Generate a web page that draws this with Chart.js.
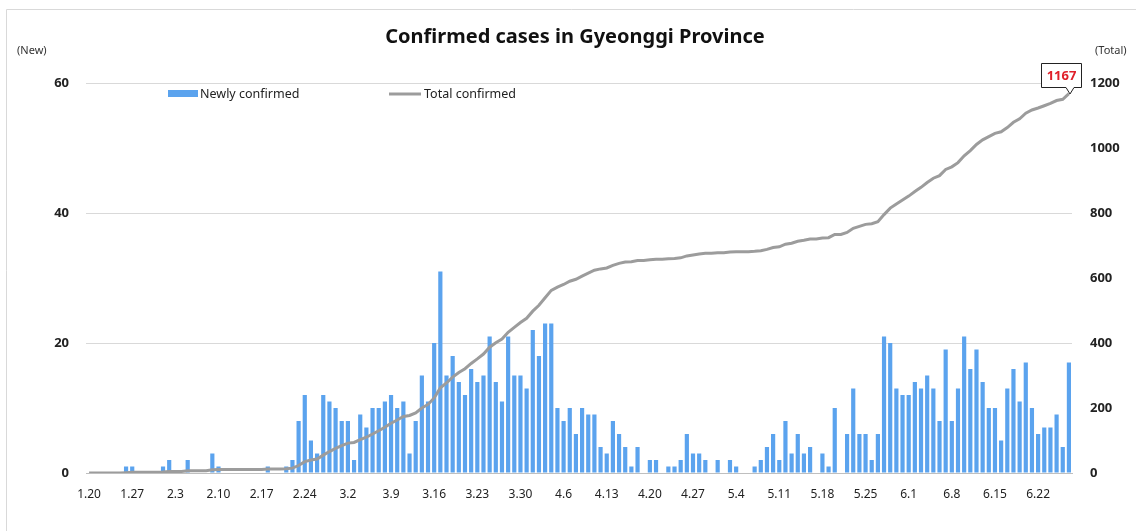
<!DOCTYPE html>
<html>
<head>
<meta charset="utf-8">
<title>Confirmed cases in Gyeonggi Province</title>
<script src="https://cdn.jsdelivr.net/npm/chart.js@4.4.0/dist/chart.umd.min.js"></script>
<style>
  body { margin: 0; background: #fff; }
  #wrap { width: 1136px; height: 531px; position: relative; }
</style>
</head>
<body>
<div id="wrap"><canvas id="casesChart"></canvas></div>
<script>
const days = [
  "1.20","1.21","1.22","1.23","1.24","1.25","1.26","1.27","1.28","1.29","1.30","1.31",
  "2.1","2.2","2.3","2.4","2.5","2.6","2.7","2.8","2.9","2.10","2.11","2.12","2.13","2.14","2.15",
  "2.16","2.17","2.18","2.19","2.20","2.21","2.22","2.23","2.24","2.25","2.26","2.27","2.28","2.29",
  "3.1","3.2","3.3","3.4","3.5","3.6","3.7","3.8","3.9","3.10","3.11","3.12","3.13","3.14","3.15","3.16",
  "3.17","3.18","3.19","3.20","3.21","3.22","3.23","3.24","3.25","3.26","3.27","3.28","3.29","3.30","3.31",
  "4.1","4.2","4.3","4.4","4.5","4.6","4.7","4.8","4.9","4.10","4.11","4.12","4.13","4.14","4.15",
  "4.16","4.17","4.18","4.19","4.20","4.21","4.22","4.23","4.24","4.25","4.26","4.27","4.28","4.29","4.30",
  "5.1","5.2","5.3","5.4","5.5","5.6","5.7","5.8","5.9","5.10","5.11","5.12","5.13","5.14","5.15","5.16",
  "5.17","5.18","5.19","5.20","5.21","5.22","5.23","5.24","5.25","5.26","5.27","5.28","5.29","5.30","5.31",
  "6.1","6.2","6.3","6.4","6.5","6.6","6.7","6.8","6.9","6.10","6.11","6.12","6.13","6.14","6.15",
  "6.16","6.17","6.18","6.19","6.20","6.21","6.22","6.23","6.24","6.25","6.26","6.27"
];

const tickLabels = ["1.20","1.27","2.3","2.10","2.17","2.24","3.2","3.9","3.16","3.23","3.30",
  "4.6","4.13","4.20","4.27","5.4","5.11","5.18","5.25","6.1","6.8","6.15","6.22"];

const newCases = [
  0,0,0,0,0,0,1,1,0,0,0,0,
  1,2,0,0,2,0,0,0,3,1,0,0,0,0,0,0,0,1,0,0,1,2,8,12,5,3,12,11,10,
  8,8,2,9,7,10,10,11,12,10,11,3,8,15,11,20,31,15,18,14,12,16,14,15,21,14,11,21,15,15,13,
  22,18,23,23,10,8,10,6,10,9,9,4,3,8,6,4,1,4,0,2,2,0,1,1,2,6,3,3,2,0,
  2,0,2,1,0,0,1,2,4,6,2,8,3,6,3,4,0,3,1,10,0,6,13,6,6,2,6,21,20,13,12,
  12,14,13,15,13,8,19,8,13,21,16,19,14,10,10,5,13,16,11,17,10,6,7,7,9,4,17
];

const totalCases = [
  0,0,0,0,0,0,1,2,2,2,2,2,
  3,5,5,5,7,7,7,7,10,11,11,11,11,11,11,11,11,12,12,12,13,15,23,35,40,43,55,66,76,
  84,92,94,103,110,120,130,141,153,163,174,177,185,200,211,231,262,277,295,309,321,337,351,366,387,401,412,433,448,463,476,
  498,516,539,562,572,580,590,596,606,615,624,628,631,639,645,649,650,654,654,656,658,658,659,660,662,668,671,674,676,676,
  678,678,680,681,681,681,682,684,688,694,696,704,707,713,716,720,720,723,724,734,734,740,753,759,765,767,773,795,815,828,840,
  852,866,879,894,907,915,934,942,955,976,992,1011,1025,1035,1045,1050,1063,1079,1090,1107,1117,1123,1130,1137,1146,1150,1167
];

const newTicks = [0, 20, 40, 60];
const totalTicks = [0, 200, 400, 600, 800, 1000, 1200];

const BAR_COLOR = "#5ba3ee";
const LINE_COLOR = "#9c9c9c";
const FONT = "'Noto Sans', 'DejaVu Sans', sans-serif";

// titles, unit labels, legend and the end-value callout
const decorations = {
  id: "decorations",
  afterDraw(chart) {
    const ctx = chart.ctx;
    ctx.save();

    ctx.strokeStyle = "#d9d9d9";
    ctx.lineWidth = 1;
    ctx.beginPath();
    ctx.moveTo(6.5, 531);
    ctx.lineTo(6.5, 9.5);
    ctx.lineTo(1136, 9.5);
    ctx.stroke();

    ctx.fillStyle = "#111";
    ctx.font = "bold 20px " + FONT;
    ctx.textAlign = "center";
    ctx.textBaseline = "middle";
    ctx.fillText("Confirmed cases in Gyeonggi Province", 575, 37);

    ctx.fillStyle = "#333";
    ctx.font = "11px " + FONT;
    ctx.textAlign = "left";
    ctx.fillText("(New)", 17, 51);
    ctx.fillText("(Total)", 1095, 51);

    // legend
    ctx.font = "12.5px " + FONT;
    ctx.fillStyle = BAR_COLOR;
    ctx.fillRect(168, 90, 30, 7);
    ctx.fillStyle = "#222";
    ctx.fillText("Newly confirmed", 200, 94);
    ctx.strokeStyle = LINE_COLOR;
    ctx.lineWidth = 3;
    ctx.beginPath();
    ctx.moveTo(389, 94);
    ctx.lineTo(421, 94);
    ctx.stroke();
    ctx.fillText("Total confirmed", 424, 94);

    // callout on the last total
    const pts = chart.getDatasetMeta(1).data;
    const last = pts[pts.length - 1];
    const px = Math.round(last.x), py = Math.round(last.y);
    const left = px - 27.5, right = px + 12.5, top = py - 30.5, bottom = py - 6.5;
    ctx.fillStyle = "#fff";
    ctx.strokeStyle = "#222";
    ctx.lineWidth = 1;
    ctx.beginPath();
    ctx.moveTo(left, top);
    ctx.lineTo(right, top);
    ctx.lineTo(right, bottom);
    ctx.lineTo(px + 5, bottom);
    ctx.lineTo(px + 1, py);
    ctx.lineTo(px - 3, bottom);
    ctx.lineTo(left, bottom);
    ctx.closePath();
    ctx.fill();
    ctx.stroke();
    ctx.fillStyle = "#e0202a";
    ctx.font = "bold 13px " + FONT;
    ctx.textAlign = "center";
    ctx.fillText(String(totalCases[totalCases.length - 1]), (left + right) / 2, (top + bottom) / 2 + 0.5);

    ctx.restore();
  }
};

new Chart(document.getElementById("casesChart"), {
  data: {
    labels: days,
    datasets: [
      {
        type: "bar",
        label: "Newly confirmed",
        data: newCases,
        backgroundColor: BAR_COLOR,
        yAxisID: "y",
        order: 2,
        barPercentage: 0.68,
        categoryPercentage: 1
      },
      {
        type: "line",
        label: "Total confirmed",
        data: totalCases,
        borderColor: LINE_COLOR,
        borderWidth: 3,
        pointRadius: 0,
        tension: 0,
        yAxisID: "y1",
        order: 1
      }
    ]
  },
  options: {
    responsive: true,
    maintainAspectRatio: false,
    animation: false,
    layout: { padding: { top: 83, left: 0, right: 0, bottom: 0 } },
    plugins: {
      legend: { display: false },
      tooltip: { enabled: false }
    },
    scales: {
      x: {
        grid: { display: false, drawTicks: false, tickLength: 0 },
        border: { display: true, color: "#bfbfbf", width: 1 },
        ticks: {
          autoSkip: false,
          maxRotation: 0,
          minRotation: 0,
          padding: 14,
          color: "#222",
          font: { family: FONT, size: 12 },
          callback: function (value) {
            const lab = this.getLabelForValue(value);
            return tickLabels.includes(lab) ? lab : "";
          }
        },
        afterFit: (scale) => { scale.height = 58; }
      },
      y: {
        position: "left",
        min: 0,
        max: 60,
        afterBuildTicks: (scale) => { scale.ticks = newTicks.map(v => ({ value: v })); },
        grid: { color: "#d9d9d9", drawTicks: false, tickLength: 0 },
        border: { display: false },
        ticks: {
          padding: 17,
          color: "#222",
          font: { family: FONT, size: 13, weight: "bold" },
          callback: (v) => String(v)
        },
        afterFit: (scale) => { scale.width = 86; }
      },
      y1: {
        position: "right",
        min: 0,
        max: 1200,
        afterBuildTicks: (scale) => { scale.ticks = totalTicks.map(v => ({ value: v })); },
        grid: { drawOnChartArea: false, drawTicks: false, tickLength: 0 },
        border: { display: false },
        ticks: {
          padding: 18,
          color: "#222",
          font: { family: FONT, size: 13, weight: "bold" },
          callback: (v) => String(v)
        },
        afterFit: (scale) => { scale.width = 64; }
      }
    }
  },
  plugins: [decorations]
});
</script>
</body>
</html>
